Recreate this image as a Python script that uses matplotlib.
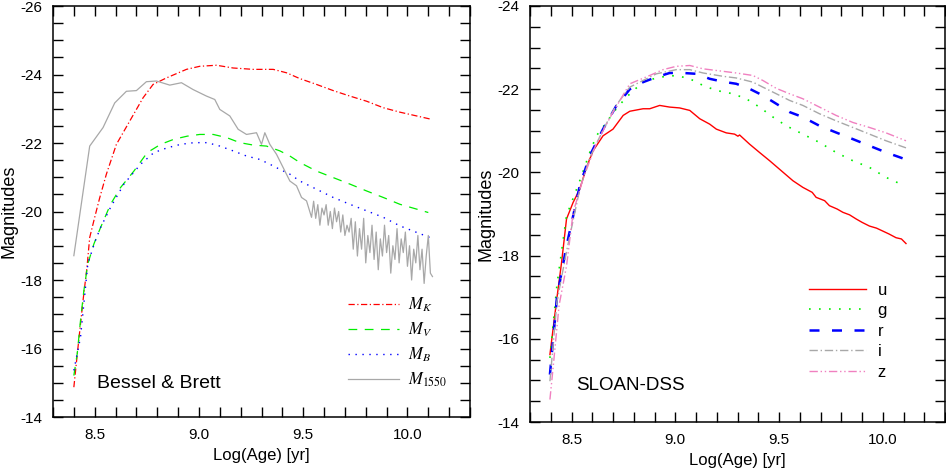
import matplotlib
matplotlib.use("Agg")
import matplotlib.pyplot as plt
from matplotlib.ticker import MultipleLocator, FormatStrFormatter

plt.rcParams['font.family'] = ['Liberation Sans', 'DejaVu Sans']
plt.rcParams['axes.unicode_minus'] = False
plt.rcParams['mathtext.fontset'] = 'stix'

# ---- left panel: Bessel & Brett ----
k_age = [8.40, 8.42, 8.444, 8.463, 8.476, 8.50, 8.524, 8.556, 8.604, 8.668, 8.732, 8.78,
         8.844, 8.94, 9.004, 9.084, 9.164, 9.26, 9.356, 9.42, 9.484, 9.564, 9.644, 9.724,
         9.804, 9.884, 9.964, 10.044, 10.116]
k_mag = [-14.87, -16.04, -17.40, -18.37, -19.24, -19.83, -20.40, -21.09, -21.96, -22.64, -23.32, -23.71,
         -23.90, -24.15, -24.24, -24.27, -24.19, -24.15, -24.15, -24.05, -23.88, -23.71, -23.53, -23.37,
         -23.22, -23.03, -22.90, -22.79, -22.69]

v_age = [8.40, 8.416, 8.432, 8.448, 8.467, 8.496, 8.528, 8.576, 8.624, 8.688, 8.752, 8.816,
         8.88, 8.944, 9.004, 9.068, 9.132, 9.196, 9.26, 9.324, 9.388, 9.436, 9.484, 9.564,
         9.644, 9.724, 9.804, 9.884, 9.964, 10.044, 10.10]
v_mag = [-15.21, -15.84, -16.82, -17.69, -18.47, -19.05, -19.53, -20.21, -20.70, -21.18, -21.72, -21.96,
         -22.11, -22.20, -22.25, -22.25, -22.16, -22.01, -21.94, -21.91, -21.77, -21.62, -21.43, -21.18,
         -20.99, -20.80, -20.60, -20.41, -20.21, -20.07, -19.97]

b_age = [8.40, 8.432, 8.467, 8.50, 8.528, 8.576, 8.64, 8.72, 8.784, 8.848, 8.912, 8.976,
         9.04, 9.10, 9.164, 9.228, 9.292, 9.34, 9.388, 9.436, 9.484, 9.564, 9.644, 9.724,
         9.804, 9.884, 9.964, 10.044, 10.108]
b_mag = [-15.36, -16.33, -18.47, -19.10, -19.53, -20.12, -20.80, -21.38, -21.72, -21.86, -21.96, -22.01,
         -22.01, -21.91, -21.77, -21.62, -21.52, -21.38, -21.23, -21.09, -20.89, -20.65, -20.41, -20.21,
         -20.02, -19.83, -19.58, -19.39, -19.24]

uv_age = [8.40, 8.476, 8.54, 8.596, 8.652, 8.70, 8.748, 8.796, 8.86, 8.916, 8.972, 9.036,
          9.076, 9.10, 9.148, 9.188, 9.228, 9.276, 9.30, 9.316, 9.34, 9.372, 9.404, 9.436,
          9.468, 9.492, 9.516, 9.54,
          9.55, 9.56, 9.57, 9.58, 9.59, 9.60, 9.61, 9.62, 9.63, 9.64, 9.65, 9.66, 9.67, 9.68,
          9.69, 9.70, 9.71, 9.72, 9.73, 9.74, 9.75, 9.76, 9.77, 9.78, 9.79, 9.80, 9.81, 9.82,
          9.83, 9.84, 9.85, 9.86, 9.87, 9.88, 9.89, 9.90, 9.91, 9.92, 9.93, 9.94, 9.95, 9.96,
          9.97, 9.98, 9.99, 10.00, 10.01, 10.02, 10.03, 10.04, 10.05, 10.06, 10.07, 10.08,
          10.09, 10.10, 10.11, 10.12]
uv_mag = [-18.71, -21.91, -22.45, -23.17, -23.51, -23.53, -23.79, -23.81, -23.69, -23.76, -23.56, -23.37,
          -23.27, -22.98, -22.79, -22.40, -22.25, -22.30, -21.96, -22.30, -21.96, -21.67, -21.28, -20.89,
          -20.75, -20.41, -20.31, -19.83,
          -20.30, -19.80, -20.20, -19.60, -20.10, -19.90, -20.20, -19.60, -20.00, -19.50, -20.10, -19.70,
          -20.00, -19.40, -19.90, -19.30, -19.60, -19.40, -19.80, -18.90, -19.70, -18.70, -19.50, -18.90,
          -19.80, -18.50, -19.30, -18.80, -19.60, -18.60, -19.40, -18.30, -19.20, -18.70, -19.60, -18.80,
          -19.30, -18.20, -19.00, -18.60, -19.50, -18.50, -19.20, -18.80, -19.40, -18.40, -19.00, -18.00,
          -18.90, -18.50, -19.30, -18.30, -18.90, -17.90, -18.70, -19.30, -18.20, -18.10]

# ---- right panel: SLOAN-DSS ----
u_age = [8.396, 8.412, 8.431, 8.452, 8.476, 8.508, 8.54, 8.572, 8.604, 8.652, 8.70, 8.749,
         8.781, 8.845, 8.877, 8.925, 8.973, 9.021, 9.07, 9.118, 9.166, 9.198, 9.246, 9.286,
         9.302, 9.31, 9.358, 9.406, 9.455, 9.511, 9.567, 9.615, 9.66, 9.679, 9.72, 9.743,
         9.78, 9.808, 9.84, 9.872, 9.90, 9.936, 9.97, 10.0, 10.03, 10.064, 10.09, 10.112]
u_mag = [-15.62, -16.27, -17.03, -17.83, -18.88, -19.28, -19.60, -20.12, -20.52, -20.88, -21.04, -21.37,
         -21.47, -21.53, -21.53, -21.61, -21.57, -21.55, -21.49, -21.29, -21.16, -21.04, -20.95, -20.92,
         -20.87, -20.90, -20.68, -20.48, -20.28, -20.04, -19.80, -19.64, -19.52, -19.40, -19.32, -19.20,
         -19.12, -19.04, -18.98, -18.88, -18.80, -18.71, -18.66, -18.59, -18.52, -18.43, -18.40, -18.29]

g_age = [8.396, 8.43, 8.476, 8.54, 8.588, 8.62, 8.668, 8.716, 8.765, 8.845, 8.925, 9.005,
         9.07, 9.134, 9.198, 9.278, 9.342, 9.406, 9.471, 9.535, 9.615, 9.695, 9.775, 9.856,
         9.936, 10.016, 10.104]
g_mag = [-15.54, -17.30, -18.96, -19.80, -20.48, -20.88, -21.20, -21.53, -21.81, -22.18, -22.29, -22.33,
         -22.25, -22.09, -21.97, -21.89, -21.77, -21.57, -21.33, -21.12, -20.92, -20.72, -20.48, -20.28,
         -20.12, -19.88, -19.68]

r_age = [8.396, 8.43, 8.476, 8.54, 8.588, 8.652, 8.716, 8.781, 8.845, 8.909, 8.973, 9.037,
         9.102, 9.166, 9.23, 9.294, 9.358, 9.422, 9.487, 9.551, 9.615, 9.695, 9.775, 9.856,
         9.936, 10.016, 10.112]
r_mag = [-15.14, -17.00, -18.23, -19.68, -20.40, -21.04, -21.60, -22.00, -22.17, -22.29, -22.39, -22.39,
         -22.37, -22.25, -22.18, -22.13, -22.01, -21.85, -21.65, -21.45, -21.33, -21.12, -20.96, -20.80,
         -20.64, -20.48, -20.31]

i_age = [8.396, 8.43, 8.476, 8.54, 8.588, 8.652, 8.716, 8.781, 8.909, 9.005, 9.07, 9.134,
         9.23, 9.294, 9.374, 9.422, 9.487, 9.551, 9.615, 9.695, 9.775, 9.856, 9.936, 10.016,
         10.112]
i_mag = [-14.98, -16.90, -18.10, -19.60, -20.35, -21.02, -21.62, -22.05, -22.37, -22.47, -22.47, -22.39,
         -22.31, -22.27, -22.17, -22.05, -21.89, -21.73, -21.61, -21.41, -21.24, -21.08, -20.92, -20.76,
         -20.59]

z_age = [8.396, 8.412, 8.44, 8.476, 8.508, 8.556, 8.62, 8.70, 8.781, 8.877, 8.941, 9.005,
         9.07, 9.134, 9.23, 9.294, 9.374, 9.422, 9.487, 9.551, 9.615, 9.695, 9.775, 9.856,
         9.936, 10.016, 10.112]
z_mag = [-14.54, -15.34, -16.80, -17.75, -19.04, -19.85, -20.70, -21.45, -22.13, -22.33, -22.47, -22.55,
         -22.57, -22.49, -22.43, -22.39, -22.33, -22.21, -22.02, -21.89, -21.77, -21.57, -21.37, -21.20,
         -21.08, -20.95, -20.76]

fig = plt.figure(figsize=(9.46, 4.69), dpi=100)
ax1 = fig.add_axes([53 / 946, 52 / 469, 417 / 946, 411 / 469])
ax2 = fig.add_axes([530 / 946, 47 / 469, 415 / 946, 416 / 469])

ax1.plot(k_age, k_mag, color='red', lw=0.9, ls=(0, (5, 2, 1, 2)), label='$M_K$')
ax1.plot(v_age, v_mag, color='#00ee00', lw=0.9, ls=(0, (7, 6)), label='$M_V$')
ax1.plot(b_age, b_mag, color='blue', lw=1.0, ls=(0, (1, 4)), label='$M_B$')
ax1.plot(uv_age, uv_mag, color='#a8a8a8', lw=0.9, label='$M_{1550}$')

ax2.plot(u_age, u_mag, color='red', lw=1.0, label='u')
ax2.plot(g_age, g_mag, color='#00ee00', lw=1.2, ls=(0, (1, 5)), label='g')
ax2.plot(r_age, r_mag, color='blue', lw=1.8, ls=(0, (4, 5)), label='r')
ax2.plot(i_age, i_mag, color='#a8a8a8', lw=1.0, ls=(0, (6, 2, 1, 2)), label='i')
ax2.plot(z_age, z_mag, color='#f080c0', lw=1.0, ls=(0, (6, 2, 1, 2, 1, 2)), label='z')

for ax, ylo, yhi in [(ax1, -14, -26), (ax2, -14, -24)]:
    ax.set_xlim(8.3, 10.3)
    ax.set_ylim(ylo, yhi)
    ax.xaxis.set_major_locator(MultipleLocator(0.5))
    ax.xaxis.set_minor_locator(MultipleLocator(0.1))
    ax.yaxis.set_major_locator(MultipleLocator(2))
    ax.yaxis.set_minor_locator(MultipleLocator(0.5))
    ax.xaxis.set_major_formatter(FormatStrFormatter('%.1f'))
    ax.yaxis.set_major_formatter(FormatStrFormatter('%d'))
    ax.tick_params(which='both', direction='in', top=True, right=True,
                   length=7, width=1, labelsize=11, pad=8)
    for s in ax.spines.values():
        s.set_linewidth(1.1)
    ax.set_xlabel('Log(Age) [yr]', fontsize=12, labelpad=4)
    ax.set_ylabel('Magnitudes', fontsize=13, labelpad=2)

ax1.text(8.51, -14.85, 'Bessel & Brett', fontsize=14, ha='left', va='baseline')
ax2.text(8.52, -14.76, 'SLOAN-DSS', fontsize=13.5, ha='left', va='baseline')

ax1.legend(loc='upper left', bbox_to_anchor=(0.707, 0.295), frameon=False, fontsize=12,
           handlelength=3.1, handletextpad=0.5, labelspacing=0.4, borderpad=0, borderaxespad=0)
ax2.legend(loc='upper left', bbox_to_anchor=(0.673, 0.335), frameon=False, fontsize=12,
           handlelength=3.4, handletextpad=0.7, labelspacing=0.33, borderpad=0, borderaxespad=0)

fig.savefig('out.png', dpi=100)
